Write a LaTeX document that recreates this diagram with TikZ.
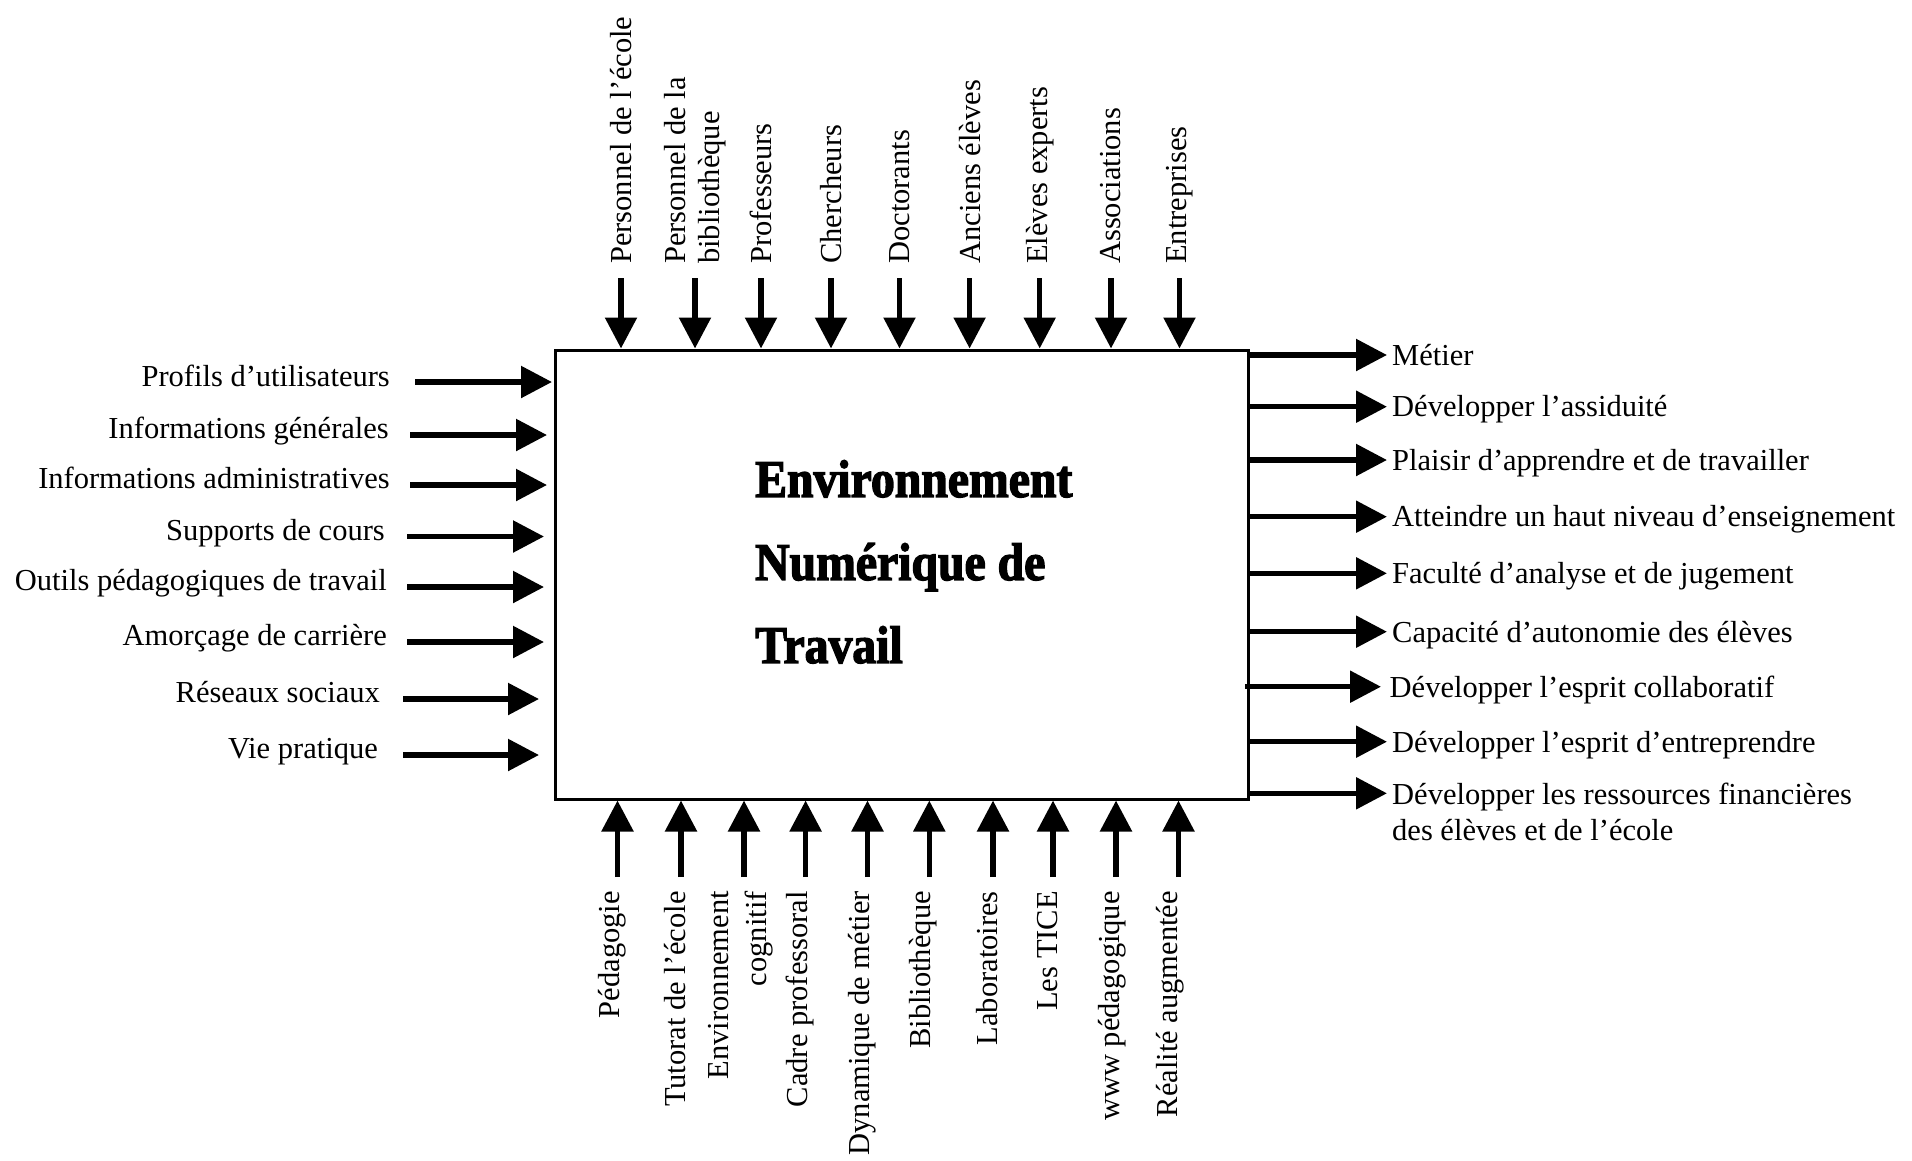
\documentclass[tikz,border=0pt]{standalone}
\usepackage{fontspec}
\setmainfont{Liberation Serif}
\newfontfamily\titlefont{Liberation Serif Bold}[FakeBold=2.5,FakeStretch=0.9]
\usetikzlibrary{arrows.meta}
\begin{document}
\begin{tikzpicture}[x=1pt,y=-1pt,
  lbl/.style={font=\fontsize{30.5}{35}\selectfont, inner sep=0pt},
  arr/.style={line width=5.5pt, -{Triangle[length=31pt,width=31pt]}},
  boxstyle/.style={draw, line width=3pt, minimum width=693pt, minimum height=449pt, inner sep=0pt}
]
\useasboundingbox (0,0) rectangle (1912,1160);
\node[boxstyle] (box) at (901.5,574.5) {};
\node[anchor=north west, align=left, inner sep=0pt, font=\titlefont\fontsize{53}{83}\selectfont] (title) at (755,460) {Environnement\\Numérique de\\Travail};

% top labels
\node[lbl, rotate=90, anchor=west] (t1) at (621,264) {Personnel de l’école};
\node[lbl, rotate=90, anchor=west, align=left, font=\fontsize{30.5}{34}\selectfont] (t2) at (695,264) {Personnel de la\\bibliothèque};
\node[lbl, rotate=90, anchor=west] (t3) at (761,264) {Professeurs};
\node[lbl, rotate=90, anchor=west] (t4) at (831,264) {Chercheurs};
\node[lbl, rotate=90, anchor=west] (t5) at (899.5,264) {Doctorants};
\node[lbl, rotate=90, anchor=west] (t6) at (969.6,264) {Anciens élèves};
\node[lbl, rotate=90, anchor=west] (t7) at (1039.7,264) {Elèves experts};
\node[lbl, rotate=90, anchor=west] (t8) at (1111,264) {Associations};
\node[lbl, rotate=90, anchor=west] (t9) at (1179.5,264) {Entreprises};
\foreach \x [count=\i] in {621,695,761,831,899.5,969.6,1039.7,1111,1179.5} {
  \coordinate (ta\i) at (\x,278);
  \draw[arr] (ta\i) -- (ta\i |- box.north);
}

% bottom labels
\node[lbl, rotate=90, anchor=east] (b1) at (612.5,891) {Pédagogie};
\node[lbl, rotate=90, anchor=east] (b2) at (675,891) {Tutorat de l’école};
\node[lbl, rotate=90, anchor=east, align=right, font=\fontsize{30.5}{38}\selectfont] (b3) at (741,891) {Environnement\\cognitif};
\node[lbl, rotate=90, anchor=east] (b4) at (800,891) {Cadre professoral};
\node[lbl, rotate=90, anchor=east] (b5) at (862.5,891) {Dynamique de métier};
\node[lbl, rotate=90, anchor=east] (b6) at (923,891) {Bibliothèque};
\node[lbl, rotate=90, anchor=east] (b7) at (987.5,891) {Laboratoires};
\node[lbl, rotate=90, anchor=east] (b8) at (1048,891) {Les TICE};
\node[lbl, rotate=90, anchor=east] (b9) at (1112.5,891) {www pédagogique};
\node[lbl, rotate=90, anchor=east] (b10) at (1170.5,891) {Réalité augmentée};
\foreach \x [count=\i] in {617.5,681,744,805.6,867.5,929.3,993,1053,1116,1178.5} {
  \coordinate (ba\i) at (\x,877);
  \draw[arr] (ba\i) -- (ba\i |- box.south);
}

% left labels
\node[lbl, anchor=base east] (l1) at (390,386) {Profils d’utilisateurs};
\node[lbl, anchor=base east] (l2) at (389,438.5) {Informations générales};
\node[lbl, anchor=base east] (l3) at (390,488.5) {Informations administratives};
\node[lbl, anchor=base east] (l4) at (385,540) {Supports de cours};
\node[lbl, anchor=base east] (l5) at (387,590) {Outils pédagogiques de travail};
\node[lbl, anchor=base east] (l6) at (387,645.5) {Amorçage de carrière};
\node[lbl, anchor=base east] (l7) at (380,702.5) {Réseaux sociaux};
\node[lbl, anchor=base east] (l8) at (378,758.5) {Vie pratique};
\foreach \a/\b/\y [count=\i] in {415/552/382,410/547/435,410/547/485,407/544/536.5,407/544/587,407/544/642,403/539/699,403/539/755} {
  \coordinate (la\i) at (\a,\y);
  \coordinate (lb\i) at (\b,\y);
  \draw[arr] (la\i) -- (lb\i);
}

% right labels
\node[lbl, anchor=base west] (r1) at (1392,365) {Métier};
\node[lbl, anchor=base west] (r2) at (1392,416.7) {Développer l’assiduité};
\node[lbl, anchor=base west] (r3) at (1392,470) {Plaisir d’apprendre et de travailler};
\node[lbl, anchor=base west] (r4) at (1392,526) {Atteindre un haut niveau d’enseignement};
\node[lbl, anchor=base west] (r5) at (1392,583.3) {Faculté d’analyse et de jugement};
\node[lbl, anchor=base west] (r6) at (1392,642.7) {Capacité d’autonomie des élèves};
\node[lbl, anchor=base west] (r7) at (1389.5,697.7) {Développer l’esprit collaboratif};
\node[lbl, anchor=base west] (r8) at (1392,752) {Développer l’esprit d’entreprendre};
\node[lbl, anchor=north west, align=left, font=\fontsize{30.5}{36}\selectfont] (r9) at (1392,782.5) {Développer les ressources financières\\des élèves et de l’école};
\foreach \y [count=\i] in {355,406.7,460,516.7,573.3,631.7} {
  \coordinate (rb\i) at (1387,\y);
  \draw[arr] (box.east |- rb\i) -- (rb\i);
}
\coordinate (ra7) at (1245,686.7);
\coordinate (rb7) at (1381,686.7);
\draw[arr] (ra7) -- (rb7);
\coordinate (rb8) at (1387,741.7);
\draw[arr] (box.east |- rb8) -- (rb8);
\coordinate (rb9) at (1387,793.3);
\draw[arr] (box.east |- rb9) -- (rb9);
\end{tikzpicture}
\end{document}
